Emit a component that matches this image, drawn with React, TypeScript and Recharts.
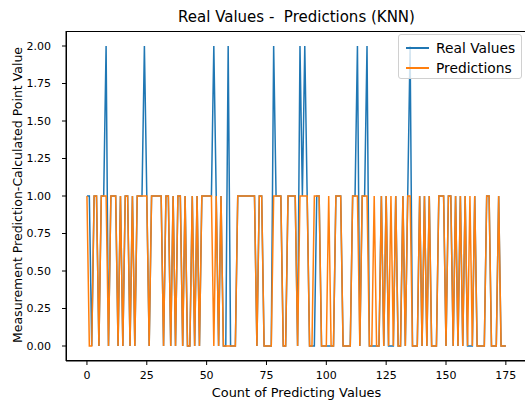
import { LineChart, Line, XAxis, YAxis } from 'recharts';

const realValues = [
  1, 1, 0, 1, 1, 0, 1, 1, 2, 0,
  1, 1, 1, 0, 1, 0, 1, 1, 0, 1,
  0, 1, 1, 1, 2, 1, 0, 1, 1, 1,
  1, 1, 0, 1, 1, 0, 1, 0, 1, 1,
  0, 1, 0, 0, 1, 0, 1, 0, 1, 1,
  1, 1, 1, 2, 1, 0, 1, 0, 0, 2,
  0, 0, 0, 1, 1, 1, 1, 1, 1, 1,
  1, 0, 1, 1, 0, 0, 0, 0, 2, 1,
  1, 1, 0, 0, 1, 1, 1, 1, 0, 2,
  1, 2, 1, 0, 0, 0, 1, 1, 0, 0,
  0, 0, 0, 0, 1, 1, 1, 0, 0, 0,
  0, 1, 1, 2, 0, 1, 1, 2, 0, 0,
  0, 0, 0, 1, 0, 1, 0, 0, 0, 1,
  0, 0, 1, 0, 1, 2, 0, 0, 0, 1,
  0, 1, 0, 1, 0, 0, 0, 1, 1, 1,
  0, 1, 1, 0, 1, 0, 1, 0, 1, 0,
  0, 0, 1, 0, 0, 0, 0, 1, 1, 0,
  0, 0, 1, 0, 0, 0,
];

const predictions = [
  1, 0, 0, 1, 1, 0, 1, 1, 1, 0,
  1, 1, 1, 0, 1, 0, 1, 1, 0, 1,
  0, 1, 1, 1, 1, 1, 0, 1, 1, 1,
  1, 1, 0, 1, 1, 0, 1, 0, 1, 1,
  0, 1, 0, 0, 1, 0, 1, 0, 1, 1,
  1, 1, 1, 0, 1, 0, 1, 0, 0, 0,
  0, 0, 0, 1, 1, 1, 1, 1, 1, 1,
  1, 0, 1, 1, 0, 0, 0, 0, 1, 1,
  1, 1, 0, 0, 1, 1, 1, 1, 0, 1,
  1, 1, 1, 0, 0, 1, 1, 1, 0, 0,
  0, 1, 0, 0, 1, 1, 1, 0, 0, 0,
  0, 1, 1, 1, 0, 1, 1, 1, 0, 0,
  1, 0, 0, 1, 0, 1, 0, 1, 0, 1,
  0, 0, 1, 0, 1, 1, 0, 0, 0, 1,
  0, 1, 0, 1, 0, 0, 0, 1, 1, 1,
  0, 1, 1, 0, 1, 0, 1, 0, 1, 0,
  1, 0, 1, 0, 0, 0, 0, 1, 1, 0,
  0, 0, 1, 0, 0, 0,
];

const xTicks = [0, 25, 50, 75, 100, 125, 150, 175];
const yTicks = [0, 0.25, 0.5, 0.75, 1, 1.25, 1.5, 1.75, 2];

const data = realValues.map((v, i) => ({ idx: i, real: v, pred: predictions[i] }));

const font = '"DejaVu Sans", sans-serif';

export default function App() {
  return (
    <div style={{ position: 'absolute', left: 0, top: 0, width: 525, height: 403, background: '#fff', fontFamily: font, overflow: 'hidden' }}>
      <LineChart width={525} height={403} data={data} margin={{ top: 31, right: 0, bottom: 0, left: 0 }}>
        <XAxis
          dataKey="idx"
          type="number"
          domain={[-8.75, 183]}
          ticks={xTicks}
          allowDataOverflow
          height={42}
          tickSize={4}
          tickMargin={6}
          stroke="#000"
          tick={{ fill: '#000', fontSize: 11, fontFamily: font }}
        />
        <YAxis
          type="number"
          domain={[-0.1, 2.1]}
          ticks={yTicks}
          allowDataOverflow
          width={66}
          tickSize={4}
          tickMargin={11}
          stroke="#000"
          tickFormatter={(v: number) => v.toFixed(2)}
          tick={{ fill: '#000', fontSize: 11, fontFamily: font }}
        />
        <Line dataKey="real" stroke="#1f77b4" strokeWidth={1.5} dot={false} isAnimationActive={false} />
        <Line dataKey="pred" stroke="#ff7f0e" strokeWidth={1.5} dot={false} isAnimationActive={false} />
      </LineChart>
      {/* axes frame (top + right spine) */}
      <div style={{ position: 'absolute', left: 66, top: 30.5, width: 470, height: 330.5, boxSizing: 'border-box', border: '1px solid #000', pointerEvents: 'none' }} />
      <div style={{ position: 'absolute', left: 0, width: 593, top: 8, textAlign: 'center', fontSize: 15, color: '#000' }}>
        Real Values -&nbsp; Predictions (KNN)
      </div>
      <div style={{ position: 'absolute', left: 0, width: 593, top: 385, textAlign: 'center', fontSize: 12.9, color: '#000' }}>
        Count of Predicting Values
      </div>
      <div style={{ position: 'absolute', left: 17, top: 195, width: 0, height: 0 }}>
        <div style={{ position: 'absolute', transform: 'translate(-50%, -50%) rotate(-90deg)', whiteSpace: 'nowrap', fontSize: 12.5, color: '#000' }}>
          Measurement Prediction-Calculated Point Value
        </div>
      </div>
      <div style={{ position: 'absolute', left: 398, top: 34, width: 124, height: 45, boxSizing: 'border-box', border: '1px solid #d0d0d0', borderRadius: 3, background: 'rgba(255,255,255,0.8)', fontSize: 13.8, color: '#000' }}>
        {[{ name: 'Real Values', color: '#1f77b4' }, { name: 'Predictions', color: '#ff7f0e' }].map((e, i) => (
          <div key={e.name} style={{ position: 'absolute', left: 7, top: 3 + i * 20, height: 19, display: 'flex', alignItems: 'center', whiteSpace: 'nowrap' }}>
            <span style={{ display: 'inline-block', flexShrink: 0, width: 23, height: 2, background: e.color, marginRight: 7 }} />
            <span>{e.name}</span>
          </div>
        ))}
      </div>
    </div>
  );
}
